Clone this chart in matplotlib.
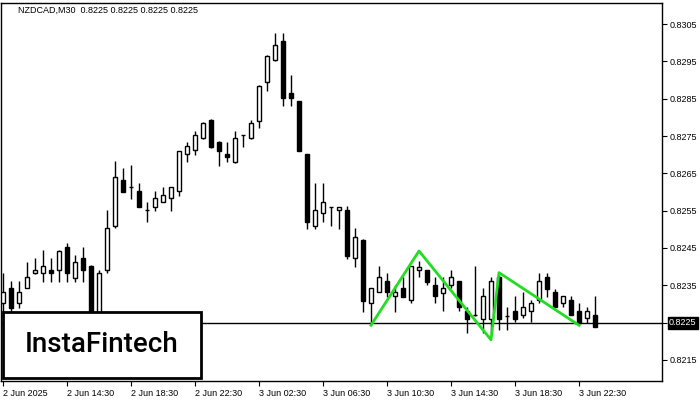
import matplotlib
matplotlib.use('Agg')
import matplotlib.pyplot as plt
from matplotlib.patches import Rectangle

# NZDCAD M30, 2 Jun 10:30 .. 3 Jun 23:30
opens = [0.82303, 0.82343, 0.82303, 0.82343, 0.82383, 0.82383, 0.82391, 0.82391, 0.82453, 0.82370,
         0.82423, 0.82402, 0.82271, 0.82391, 0.82509, 0.82632, 0.82614, 0.82603, 0.82552, 0.82560,
         0.82574, 0.82584, 0.82603, 0.82702, 0.82713, 0.82745, 0.82793, 0.82734, 0.82702, 0.82681,
         0.82753, 0.82745, 0.82791, 0.82895, 0.82954, 0.83005, 0.82866, 0.82844, 0.82702, 0.82509,
         0.82544, 0.82560, 0.82552, 0.82552, 0.82423, 0.82472, 0.82303, 0.82332, 0.82362, 0.82322,
         0.82343, 0.82311, 0.82391, 0.82391, 0.82351, 0.82330, 0.82351, 0.82362, 0.82281, 0.82271,
         0.82260, 0.82260, 0.82372, 0.82268, 0.82281, 0.82271, 0.82281, 0.82311, 0.82372, 0.82332,
         0.82303, 0.82311, 0.82281, 0.82263, 0.82271]
highs = [0.82383, 0.82362, 0.82362, 0.82413, 0.82423, 0.82445, 0.82423, 0.82445, 0.82464, 0.82431,
         0.82453, 0.82405, 0.82391, 0.82552, 0.82683, 0.82665, 0.82673, 0.82624, 0.82574, 0.82603,
         0.82614, 0.82614, 0.82710, 0.82734, 0.82764, 0.82788, 0.82796, 0.82737, 0.82734, 0.82764,
         0.82754, 0.82793, 0.82887, 0.82967, 0.83026, 0.83026, 0.82914, 0.82845, 0.82703, 0.82624,
         0.82624, 0.82561, 0.82560, 0.82563, 0.82504, 0.82473, 0.82343, 0.82402, 0.82383, 0.82351,
         0.82372, 0.82402, 0.82415, 0.82391, 0.82372, 0.82372, 0.82391, 0.82362, 0.82292, 0.82402,
         0.82343, 0.82372, 0.82383, 0.82292, 0.82322, 0.82332, 0.82311, 0.82383, 0.82383, 0.82340,
         0.82322, 0.82322, 0.82303, 0.82292, 0.82322]
lows = [0.82263, 0.82263, 0.82289, 0.82342, 0.82381, 0.82359, 0.82359, 0.82359, 0.82359, 0.82359,
        0.82359, 0.82263, 0.82263, 0.82383, 0.82504, 0.82600, 0.82582, 0.82560, 0.82520, 0.82549,
        0.82572, 0.82549, 0.82590, 0.82681, 0.82699, 0.82742, 0.82718, 0.82670, 0.82681, 0.82678,
        0.82721, 0.82742, 0.82772, 0.82871, 0.82951, 0.82831, 0.82831, 0.82709, 0.82501, 0.82501,
        0.82520, 0.82509, 0.82501, 0.82421, 0.82399, 0.82279, 0.82244, 0.82331, 0.82319, 0.82279,
        0.82319, 0.82303, 0.82372, 0.82351, 0.82303, 0.82281, 0.82343, 0.82281, 0.82222, 0.82268,
        0.82222, 0.82222, 0.82230, 0.82230, 0.82252, 0.82263, 0.82252, 0.82303, 0.82319, 0.82292,
        0.82292, 0.82271, 0.82244, 0.82250, 0.82238]
closes = [0.82332, 0.82289, 0.82332, 0.82372, 0.82391, 0.82402, 0.82383, 0.82442, 0.82383, 0.82413,
          0.82391, 0.82281, 0.82383, 0.82504, 0.82641, 0.82600, 0.82613, 0.82560, 0.82551, 0.82584,
          0.82592, 0.82614, 0.82710, 0.82724, 0.82753, 0.82785, 0.82721, 0.82710, 0.82694, 0.82745,
          0.82754, 0.82785, 0.82884, 0.82965, 0.82994, 0.82852, 0.82852, 0.82710, 0.82520, 0.82552,
          0.82574, 0.82559, 0.82560, 0.82429, 0.82480, 0.82308, 0.82343, 0.82372, 0.82332, 0.82332,
          0.82319, 0.82402, 0.82399, 0.82359, 0.82322, 0.82343, 0.82372, 0.82292, 0.82260, 0.82270,
          0.82322, 0.82362, 0.82260, 0.82267, 0.82260, 0.82292, 0.82303, 0.82362, 0.82340, 0.82292,
          0.82322, 0.82271, 0.82250, 0.82281, 0.82238]

tick_bars = [0, 8, 16, 24, 32, 40, 48, 56, 64, 72]
tick_labels = ['2 Jun 2025', '2 Jun 14:30', '2 Jun 18:30', '2 Jun 22:30', '3 Jun 02:30',
               '3 Jun 06:30', '3 Jun 10:30', '3 Jun 14:30', '3 Jun 18:30', '3 Jun 22:30']
price_ticks = [0.8215, 0.8225, 0.8235, 0.8245, 0.8255, 0.8265, 0.8275, 0.8285, 0.8295, 0.8305]

# pattern (green) lines
pat_x = [46, 52, 61, 62, 72]
pat_y = [0.82243, 0.82442, 0.82204, 0.82384, 0.82243]
last_price = 0.8225

fig = plt.figure(figsize=(7, 4), dpi=100)
ax = fig.add_axes([1/700, 19/400, 661/700, 378/400])
ax.set_xlim(-0.25, 82.375)
ax.set_ylim(0.820937, 0.831063)

n = len(opens)
xs = list(range(n))
ax.vlines(xs, lows, highs, color='black', lw=1.0, zorder=2)
for i in xs:
    o, c = opens[i], closes[i]
    face = 'white' if c >= o else 'black'
    bottom = min(o, c)
    h = abs(c - o)
    if h < 0.00002:
        ax.hlines(o, i - 0.3, i + 0.3, color='black', lw=1.0, zorder=3)
    else:
        ax.add_patch(Rectangle((i - 0.28, bottom), 0.56, h, facecolor=face,
                               edgecolor='black', lw=1.0, zorder=3))

ax.axhline(last_price, color='black', lw=1.0, zorder=1)
ax.plot(pat_x, pat_y, color='#22dd22', lw=2.0, zorder=4)

for s in ax.spines.values():
    s.set_linewidth(1.0)
ax.yaxis.tick_right()
ax.set_yticks(price_ticks)
ax.set_yticklabels(['' if abs(p - last_price) < 1e-6 else '%.4f' % p for p in price_ticks],
                   fontsize=6.5, family='Liberation Sans')
ax.set_xticks(tick_bars)
ax.set_xticklabels(tick_labels, fontsize=6.5, family='Liberation Sans', ha='left')
ax.tick_params(axis='both', direction='out', length=3.5, width=0.8, pad=2)

# current price marker on the price scale
ax.annotate('0.8225', xy=(1, last_price), xycoords=ax.get_yaxis_transform(),
            xytext=(5, 0), textcoords='offset points', fontsize=6.5, family='Liberation Sans',
            color='white', va='center', ha='left', annotation_clip=False,
            bbox=dict(boxstyle='square,pad=0.15', fc='black', ec='black'))

fig.text(18/700, 1 - 10/400, 'NZDCAD,M30  0.8225 0.8225 0.8225 0.8225', fontsize=6.5,
         family='Liberation Sans', va='center', ha='left')

# logo box
fig.patches.append(Rectangle((3/700, 22/400), 198/700, 66/400, transform=fig.transFigure,
                             facecolor='white', edgecolor='black', lw=2.0, zorder=5))
fig.text(102/700, 1 - 345/400, 'InstaFintech', fontsize=20, family='Roboto',
         fontweight='medium', va='center', ha='center', zorder=6)

fig.savefig('out.png', dpi=100)
